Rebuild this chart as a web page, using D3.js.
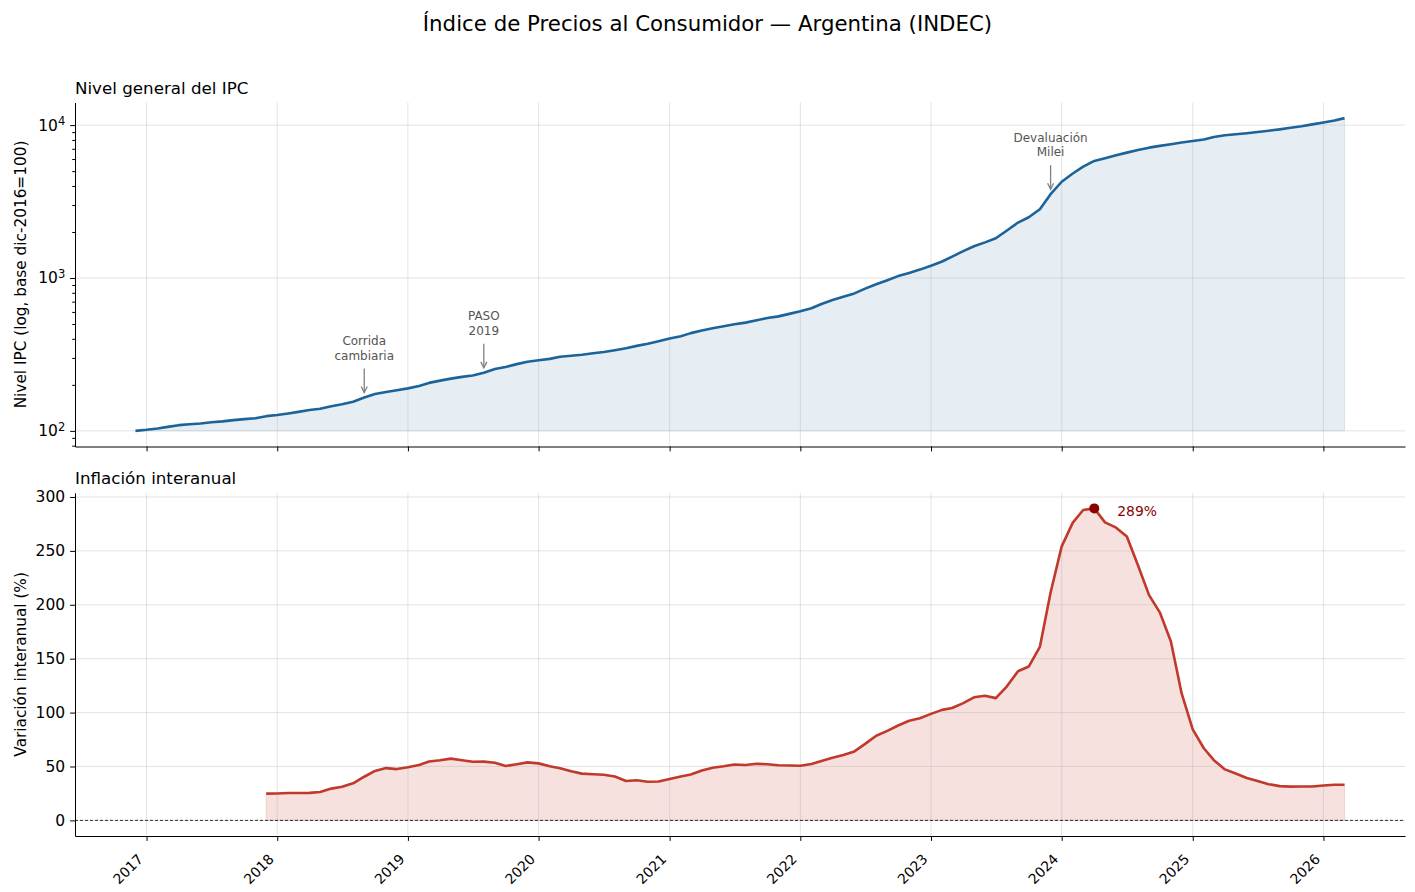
<!DOCTYPE html>
<html>
<head>
<meta charset="utf-8">
<script src="https://cdn.jsdelivr.net/npm/d3@7"></script>
<style>
  body { margin: 0; background: #fff; }
  text { font-family: "DejaVu Sans", sans-serif; }
</style>
</head>
<body>
<script>
// monthly IPC level, base dic-2016 = 100, first month dic-2016
const ipcStart = '2016-12-01';
const ipc = [
  100.00,
  101.59, 103.69, 106.15, 108.97, 110.53, 111.85, 113.79, 115.38, 117.57, 119.35, 120.99, 124.80,
  126.99, 130.06, 133.11, 136.75, 139.59, 144.81, 149.30, 155.10, 165.24, 174.15, 179.64, 184.26,
  189.61, 196.75, 205.96, 213.05, 219.57, 225.54, 230.49, 239.61, 253.71, 262.07, 273.22, 283.44,
  289.83, 295.67, 305.55, 310.12, 314.91, 321.97, 328.20, 337.06, 346.62, 359.66, 371.02, 385.88,
  401.51, 415.86, 435.87, 453.65, 468.73, 483.60, 498.10, 510.39, 528.50, 547.08, 560.92, 582.46,
  605.03, 633.43, 676.06, 716.94, 753.15, 793.03, 851.76, 911.13, 967.31, 1028.71, 1079.28, 1134.59,
  1202.98, 1282.71, 1381.16, 1497.21, 1613.59, 1709.61, 1818.08, 2044.28, 2304.92, 2496.27, 2816.06, 3533.19,
  4261.53, 4825.79, 5357.09, 5830.23, 6073.72, 6351.71, 6607.75, 6883.44, 7122.24, 7313.95, 7491.43, 7694.01,
  7864.13, 8052.99, 8353.32, 8585.67, 8714.49, 8855.57, 9023.97, 9193.24, 9384.13, 9603.91, 9841.59, 10117.6,
  10412, 10711, 11110
];

// year-on-year inflation (%), first month dic-2017
const yoyStart = '2017-12-01';
const yoy = [
  24.8,
  25.0, 25.4, 25.4, 25.5, 26.3, 29.5, 31.2, 34.4, 40.5, 45.9, 48.5, 47.6,
  49.3, 51.3, 54.7, 55.8, 57.3, 55.8, 54.4, 54.5, 53.5, 50.5, 52.1, 53.8,
  52.9, 50.3, 48.4, 45.6, 43.4, 42.8, 42.4, 40.7, 36.6, 37.2, 35.8, 36.1,
  38.5, 40.7, 42.6, 46.3, 48.8, 50.2, 51.8, 51.4, 52.5, 52.1, 51.2, 50.9,
  50.7, 52.3, 55.1, 58.0, 60.7, 64.0, 71.0, 78.5, 83.0, 88.0, 92.4, 94.8,
  98.8, 102.5, 104.3, 108.8, 114.2, 115.6, 113.4, 124.4, 138.3, 142.7, 160.9, 211.4,
  254.2, 276.2, 287.9, 289.4, 276.4, 271.5, 263.4, 236.7, 209.0, 193.0, 166.0, 117.8,
  84.5, 66.9, 55.9, 47.3, 43.5, 39.4, 36.6, 33.6, 31.8, 31.3, 31.4, 31.5,
  32.4, 33.1, 33.0
];

const years = [2017, 2018, 2019, 2020, 2021, 2022, 2023, 2024, 2025, 2026];
const logTicks = [100, 1000, 10000];
const yoyTicks = [0, 50, 100, 150, 200, 250, 300];

const notes = [
  { month: '2018-09-01', lines: ['Corrida', 'cambiaria'] },
  { month: '2019-08-01', lines: ['PASO', '2019'] },
  { month: '2023-12-01', lines: ['Devaluación', 'Milei'] }
];

const blue = '#1b6399';
const red = '#c0392b';
const FONT = '"DejaVu Sans", sans-serif';

const W = 1415, H = 892;
const L = 75, R = 1405;
const top1 = 102.5, bot1 = 446.5;
const top2 = 492.8, bot2 = 836;

const svg = d3.select('body').append('svg').attr('width', W).attr('height', H);

const ipcData = ipc.map((v, i) => ({ date: d3.utcMonth.offset(new Date(ipcStart), i), v }));
const yoyData = yoy.map((v, i) => ({ date: d3.utcMonth.offset(new Date(yoyStart), i), v }));

const t0 = ipcData[0].date, t1 = ipcData[ipcData.length - 1].date;
const pad = (t1 - t0) * 0.05;
const x = d3.scaleUtc().domain([new Date(+t0 - pad), new Date(+t1 + pad)]).range([L, R]);

const lo = Math.log10(d3.min(ipc)), hi = Math.log10(d3.max(ipc)), m = (hi - lo) * 0.05;
const yTop = d3.scaleLog().domain([10 ** (lo - m), 10 ** (hi + m)]).range([bot1, top1]);

const ymax = d3.max(yoy);
const yBot = d3.scaleLinear().domain([-ymax * 0.05, ymax * 1.05]).range([bot2, top2]);

const yearDates = years.map(y => new Date(Date.UTC(y, 0, 1)));

svg.append('text').attr('x', W / 2).attr('y', 31).attr('text-anchor', 'middle')
  .attr('font-size', 21.3).attr('fill', '#000')
  .text('Índice de Precios al Consumidor — Argentina (INDEC)');

function grid(g, yScale, yVals, top, bot) {
  g.selectAll('line.gx').data(yearDates).enter().append('line')
    .attr('x1', d => x(d)).attr('x2', d => x(d)).attr('y1', top).attr('y2', bot)
    .attr('stroke', '#b0b0b0').attr('stroke-opacity', 0.35).attr('stroke-width', 1);
  g.selectAll('line.gy').data(yVals).enter().append('line')
    .attr('x1', L).attr('x2', R).attr('y1', d => yScale(d)).attr('y2', d => yScale(d))
    .attr('stroke', '#b0b0b0').attr('stroke-opacity', 0.35).attr('stroke-width', 1);
}

function styleAxis(g, size) {
  g.attr('font-family', FONT).attr('font-size', size);
  g.select('.domain').attr('stroke', '#000').attr('stroke-width', 1);
  g.selectAll('.tick line').attr('stroke', '#000').attr('stroke-width', 1);
  g.selectAll('.tick text').attr('fill', '#000');
}

// ---------- panel 1: IPC level ----------
const p1 = svg.append('g');

p1.append('path').datum(ipcData)
  .attr('d', d3.area().x(d => x(d.date)).y0(yTop(d3.min(ipc))).y1(d => yTop(d.v)))
  .attr('fill', blue).attr('fill-opacity', 0.11)
  .attr('stroke', blue).attr('stroke-opacity', 0.12).attr('stroke-width', 1);

grid(p1, yTop, logTicks, top1, bot1);

p1.append('path').datum(ipcData)
  .attr('d', d3.line().x(d => x(d.date)).y(d => yTop(d.v)))
  .attr('fill', 'none').attr('stroke', blue).attr('stroke-width', 2.6).attr('stroke-linejoin', 'round');

// annotations with arrows
notes.forEach(n => {
  const d = ipcData.find(p => +p.date === +new Date(n.month));
  const px = x(d.date), py = yTop(d.v);
  const tip = py - 5, tail = py - 29;
  p1.append('line').attr('x1', px).attr('x2', px).attr('y1', tail).attr('y2', tip)
    .attr('stroke', '#808080').attr('stroke-width', 1.3);
  p1.append('path').attr('d', `M${px - 3},${tip - 6}L${px},${tip}L${px + 3},${tip - 6}`)
    .attr('fill', 'none').attr('stroke', '#808080').attr('stroke-width', 1.3);
  n.lines.forEach((t, i) => {
    p1.append('text').attr('x', px).attr('y', py - 38 - (n.lines.length - 1 - i) * 14.5)
      .attr('text-anchor', 'middle').attr('font-size', 12).attr('fill', '#555').text(t);
  });
});

// axes
const yMinor = yTop.ticks().filter(v => !logTicks.includes(v));
p1.append('g').attr('transform', `translate(${L},0)`)
  .call(d3.axisLeft(yTop).tickValues(yMinor).tickSize(2.8).tickSizeOuter(0).tickFormat(''))
  .call(g => styleAxis(g, 15.5)).call(g => g.select('.domain').remove());

const ax1 = p1.append('g').attr('transform', `translate(${L},0)`)
  .call(d3.axisLeft(yTop).tickValues(logTicks).tickSize(4.9).tickPadding(4.9).tickSizeOuter(0).tickFormat(''))
  .call(g => styleAxis(g, 15.5));
ax1.selectAll('.tick text').each(function (d) {
  const t = d3.select(this);
  t.append('tspan').text('10');
  t.append('tspan').attr('dy', '-0.5em').attr('font-size', 11.5).text(Math.round(Math.log10(d)));
});

p1.append('g').attr('transform', `translate(0,${bot1})`)
  .call(d3.axisBottom(x).tickValues(yearDates).tickSize(4.9).tickSizeOuter(0).tickFormat(''))
  .call(g => styleAxis(g, 13.9));

p1.append('text').attr('x', L).attr('y', 94).attr('font-size', 16.7).attr('fill', '#000')
  .text('Nivel general del IPC');
p1.append('text').attr('transform', `translate(26,${(top1 + bot1) / 2}) rotate(-90)`)
  .attr('text-anchor', 'middle').attr('font-size', 15.3).attr('fill', '#000')
  .text('Nivel IPC (log, base dic-2016=100)');

// ---------- panel 2: year-on-year ----------
const p2 = svg.append('g');

p2.append('path').datum(yoyData)
  .attr('d', d3.area().x(d => x(d.date)).y0(yBot(0)).y1(d => yBot(d.v)))
  .attr('fill', red).attr('fill-opacity', 0.15)
  .attr('stroke', red).attr('stroke-opacity', 0.15).attr('stroke-width', 1);

grid(p2, yBot, yoyTicks, top2, bot2);

p2.append('line').attr('x1', L).attr('x2', R).attr('y1', yBot(0)).attr('y2', yBot(0))
  .attr('stroke', '#000').attr('stroke-width', 0.8).attr('stroke-dasharray', '3,2');

p2.append('path').datum(yoyData)
  .attr('d', d3.line().x(d => x(d.date)).y(d => yBot(d.v)))
  .attr('fill', 'none').attr('stroke', red).attr('stroke-width', 2.6).attr('stroke-linejoin', 'round');

const peak = yoyData[d3.maxIndex(yoyData, d => d.v)];
p2.append('circle').attr('cx', x(peak.date)).attr('cy', yBot(peak.v)).attr('r', 5).attr('fill', '#8b0000');
p2.append('text').attr('x', x(peak.date) + 23).attr('y', yBot(peak.v) + 7.5)
  .attr('font-size', 13.9).attr('fill', '#8b0000').text(`${Math.round(peak.v)}%`);

p2.append('g').attr('transform', `translate(${L},0)`)
  .call(d3.axisLeft(yBot).tickValues(yoyTicks).tickSize(4.9).tickPadding(4.9).tickSizeOuter(0))
  .call(g => styleAxis(g, 15.5));

const ax2x = p2.append('g').attr('transform', `translate(0,${bot2})`)
  .call(d3.axisBottom(x).tickValues(yearDates).tickSize(4.9).tickSizeOuter(0).tickFormat(d3.utcFormat('%Y')))
  .call(g => styleAxis(g, 13.9));
ax2x.selectAll('.tick text')
  .attr('text-anchor', 'end').attr('y', 0).attr('dy', 0)
  .attr('transform', 'translate(-3,24) rotate(-45)');

p2.append('text').attr('x', L).attr('y', 484).attr('font-size', 16.7).attr('fill', '#000')
  .text('Inflación interanual');
p2.append('text').attr('transform', `translate(26,${(top2 + bot2) / 2}) rotate(-90)`)
  .attr('text-anchor', 'middle').attr('font-size', 15.3).attr('fill', '#000')
  .text('Variación interanual (%)');
</script>
</body>
</html>
